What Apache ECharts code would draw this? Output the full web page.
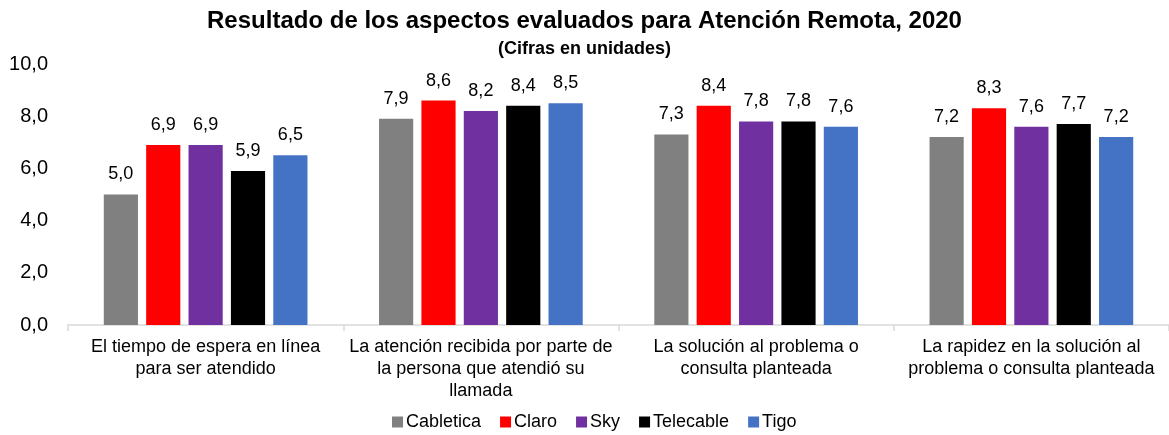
<!DOCTYPE html>
<html><head><meta charset="utf-8">
<script src="https://cdn.jsdelivr.net/npm/echarts@6/dist/echarts.min.js"></script>
<style>html,body{margin:0;padding:0;background:#fff}#c{width:1169px;height:435px}</style>
</head><body><div id="c"></div>
<script>
const categories = [
  "El tiempo de espera en línea\npara ser atendido",
  "La atención recibida por parte de\nla persona que atendió su\nllamada",
  "La solución al problema o\nconsulta planteada",
  "La rapidez en la solución al\nproblema o consulta planteada"
];
const seriesNames = ["Cabletica", "Claro", "Sky", "Telecable", "Tigo"];
const cabletica = [5.0, 7.9, 7.3, 7.2];
const claro = [6.9, 8.6, 8.4, 8.3];
const sky = [6.9, 8.2, 7.8, 7.6];
const telecable = [5.9, 8.4, 7.8, 7.7];
const tigo = [6.5, 8.5, 7.6, 7.2];
const yTicks = [0, 2, 4, 6, 8, 10];
const colors = ["#808080", "#FF0000", "#7030A0", "#000000", "#4472C4"];
const values = [cabletica, claro, sky, telecable, tigo];

const FONT = "'Liberation Sans', Arial, sans-serif";
const fmt = v => v.toFixed(1).replace('.', ',');

const chart = echarts.init(document.getElementById('c'));
chart.setOption({
  animation: false,
  textStyle: { fontFamily: FONT },
  title: [
    { text: "Resultado de los aspectos evaluados para Atención Remota, 2020", left: 'center', top: 4,
      textStyle: { fontFamily: FONT, fontSize: 24, fontWeight: 'bold', color: '#000' } },
    { text: "(Cifras en unidades)", left: 'center', top: 35,
      textStyle: { fontFamily: FONT, fontSize: 18, fontWeight: 'bold', color: '#000' } }
  ],
  legend: {
    data: seriesNames, top: 413, left: 392, padding: 0, itemWidth: 11, itemHeight: 11, itemGap: 19,
    icon: 'rect',
    textStyle: { fontFamily: FONT, fontSize: 18, color: '#000', padding: [0, 0, 0, -2] }
  },
  grid: { left: 68, right: 0, top: 64, bottom: 110 },
  xAxis: {
    type: 'category', data: categories,
    axisLine: { lineStyle: { color: '#D9D9D9', width: 1.5 } },
    axisTick: { show: true, length: 6, lineStyle: { color: '#D9D9D9', width: 1.5 } },
    axisLabel: { fontFamily: FONT, fontSize: 18, color: '#000', margin: 11, lineHeight: 22, interval: 0 }
  },
  yAxis: {
    type: 'value', min: yTicks[0], max: yTicks[yTicks.length - 1], interval: 2,
    axisLine: { show: false }, axisTick: { show: false }, splitLine: { show: false },
    axisLabel: { fontFamily: FONT, fontSize: 20, color: '#000', margin: 20, formatter: v => fmt(v) }
  },
  series: seriesNames.map((n, i) => ({
    name: n, type: 'bar', data: values[i],
    barGap: '24%', barCategoryGap: '26%',
    itemStyle: { color: colors[i] },
    label: { show: true, position: 'top', distance: 11, fontFamily: FONT, fontSize: 18, color: '#000',
      formatter: p => fmt(p.value) }
  }))
});
</script></body></html>
